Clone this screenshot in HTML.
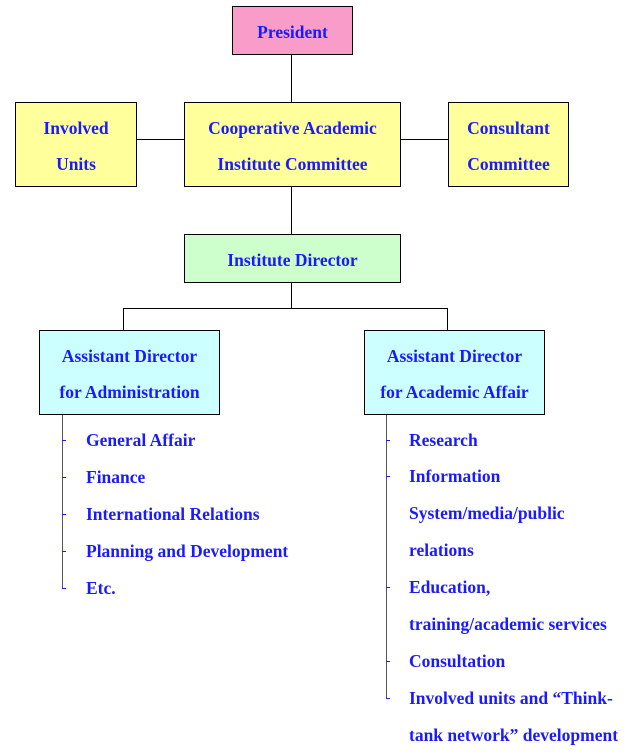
<!DOCTYPE html>
<html><head><meta charset="utf-8"><style>
body{margin:0;width:637px;height:756px;background:#fff;position:relative;overflow:hidden;font-family:"Liberation Serif","Times New Roman","DejaVu Serif",serif;font-weight:bold;font-size:17.5px;color:#1a1aff}
.b{position:absolute;border:1px solid #000;box-sizing:border-box;display:flex;flex-direction:column;justify-content:center;align-items:center;text-align:center;line-height:36px;padding-top:2px}
.l{position:absolute;background:#000}
.t{position:absolute;white-space:nowrap;line-height:20px}
.k{position:absolute;height:1px;width:4px;background:#1a1aff}
</style></head><body>
<div class="b" style="left:232px;top:6px;width:121px;height:49px;background:#f99cc9">President</div>
<div class="l" style="left:291px;top:55px;width:1px;height:47px"></div>
<div class="b" style="left:15px;top:102px;width:122px;height:85px;background:#ffff9c"><div>Involved</div><div>Units</div></div>
<div class="b" style="left:184px;top:102px;width:217px;height:85px;background:#ffff9c"><div>Cooperative Academic</div><div>Institute Committee</div></div>
<div class="b" style="left:448px;top:102px;width:121px;height:85px;background:#ffff9c"><div>Consultant</div><div>Committee</div></div>
<div class="l" style="left:137px;top:139px;width:47px;height:1px"></div>
<div class="l" style="left:401px;top:139px;width:47px;height:1px"></div>
<div class="l" style="left:291px;top:187px;width:1px;height:47px"></div>
<div class="b" style="left:184px;top:234px;width:217px;height:49px;background:#ccffcc">Institute Director</div>
<div class="l" style="left:291px;top:283px;width:1px;height:26px"></div>
<div class="l" style="left:123px;top:308px;width:325px;height:1px"></div>
<div class="l" style="left:123px;top:308px;width:1px;height:22px"></div>
<div class="l" style="left:447px;top:308px;width:1px;height:22px"></div>
<div class="b" style="left:39px;top:330px;width:181px;height:85px;background:#ccffff"><div>Assistant Director</div><div>for Administration</div></div>
<div class="b" style="left:364px;top:330px;width:181px;height:85px;background:#ccffff"><div>Assistant Director</div><div>for Academic Affair</div></div>
<div class="l" style="left:62px;top:415px;width:1px;height:174px;background:#555"></div>
<div class="k" style="left:62px;top:440px"></div><div class="k" style="left:62px;top:477px"></div><div class="k" style="left:62px;top:514px"></div><div class="k" style="left:62px;top:551px"></div><div class="k" style="left:62px;top:588px"></div>
<div class="t" style="left:86px;top:430px">General Affair</div>
<div class="t" style="left:86px;top:467px">Finance</div>
<div class="t" style="left:86px;top:504px">International Relations</div>
<div class="t" style="left:86px;top:541px">Planning and Development</div>
<div class="t" style="left:86px;top:578px">Etc.</div>
<div class="l" style="left:386px;top:415px;width:1px;height:284px;background:#555"></div>
<div class="k" style="left:386px;top:440px"></div><div class="k" style="left:386px;top:476px"></div><div class="k" style="left:386px;top:587px"></div><div class="k" style="left:386px;top:661px"></div><div class="k" style="left:386px;top:698px"></div>
<div class="t" style="left:409px;top:430px">Research</div>
<div class="t" style="left:409px;top:466px">Information</div>
<div class="t" style="left:409px;top:503px">System/media/public</div>
<div class="t" style="left:409px;top:540px">relations</div>
<div class="t" style="left:409px;top:577px">Education,</div>
<div class="t" style="left:409px;top:614px">training/academic services</div>
<div class="t" style="left:409px;top:651px">Consultation</div>
<div class="t" style="left:409px;top:688px">Involved units and “Think-</div>
<div class="t" style="left:409px;top:725px">tank network” development</div>
</body></html>
